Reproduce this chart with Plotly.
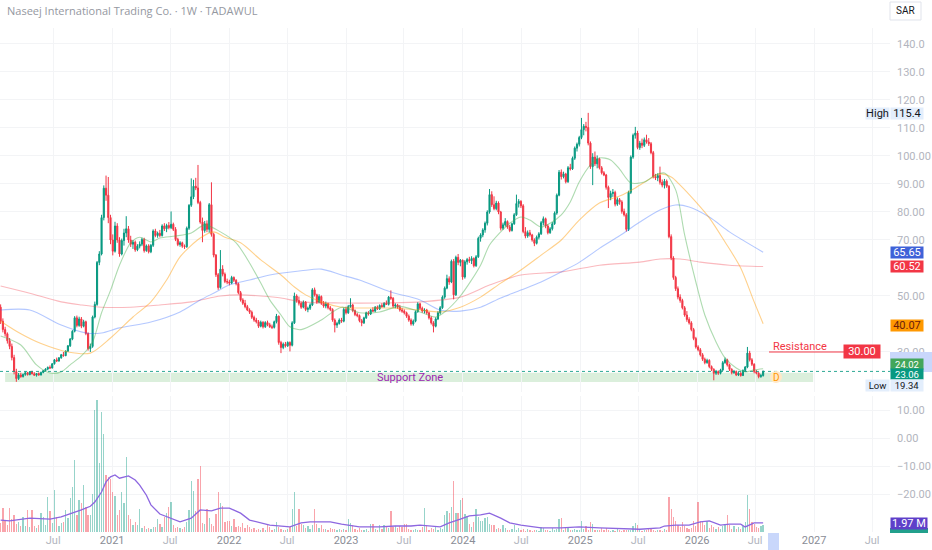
import plotly.graph_objects as go
import pandas as pd

# weekly candles, Naseej International Trading Co. (TADAWUL), values in SAR
first_week = "2020-01-19"

opens = [
    46.0, 41.0, 38.0, 36.5, 34.0, 32.0, 28.0, 23.0, 20.5, 21.8,
    21.2, 22.0, 22.6, 21.9, 22.9, 22.2, 21.7, 22.3, 21.8, 22.7,
    23.3, 23.9, 24.5, 24.3, 25.8, 27.2, 26.8, 27.9, 29.0, 28.7,
    30.3, 32.2, 34.6, 37.4, 42.2, 39.5, 41.8, 39.2, 40.8, 36.6,
    31.2, 32.0, 42.5, 47.0, 62.0, 65.0, 78.0, 88.5, 86.0, 78.0,
    70.0, 66.0, 75.0, 70.0, 65.0, 69.8, 72.5, 74.0, 70.0, 68.5,
    69.2, 66.5, 67.8, 68.5, 70.2, 66.2, 67.9, 65.8, 68.1, 73.2,
    71.6, 72.4, 71.6, 75.0, 74.0, 75.2, 74.4, 75.6, 73.8, 70.2,
    68.4, 69.0, 67.8, 67.6, 74.2, 82.4, 85.4, 89.2, 88.6, 83.4,
    76.4, 73.4, 75.8, 73.8, 82.6, 72.0, 64.6, 57.6, 53.0, 59.6,
    57.8, 55.2, 55.0, 54.6, 56.6, 55.6, 54.4, 51.2, 48.6, 47.4,
    46.2, 45.0, 44.2, 42.4, 41.4, 40.8, 39.2, 40.6, 39.0, 40.5,
    39.7, 39.0, 38.8, 40.8, 42.8, 33.4, 31.6, 32.8, 32.2, 33.4,
    32.4, 40.4, 50.0, 48.4, 47.4, 46.0, 47.8, 45.2, 45.6, 46.8,
    52.2, 50.4, 47.8, 49.8, 47.4, 46.4, 47.2, 45.8, 45.2, 41.4,
    39.6, 40.2, 41.4, 41.0, 45.2, 44.0, 46.2, 46.8, 44.8, 43.4,
    43.0, 41.2, 40.4, 42.2, 44.0, 43.6, 45.0, 44.6, 46.0, 45.4,
    46.6, 46.2, 47.4, 47.0, 49.6, 49.2, 46.4, 46.8, 46.0, 45.0,
    44.6, 44.0, 42.8, 41.4, 40.0, 41.0, 44.4, 47.2, 45.6, 44.6,
    45.0, 44.0, 42.2, 40.4, 39.2, 41.8, 44.0, 45.8, 49.6, 52.8,
    56.2, 55.0, 62.4, 50.4, 63.8, 62.0, 62.8, 56.8, 62.2, 63.0,
    62.6, 63.4, 60.8, 64.0, 70.6, 71.8, 73.6, 76.0, 80.0, 86.2,
    82.6, 81.2, 83.2, 80.0, 74.2, 75.4, 76.6, 74.6, 73.4, 75.8,
    79.0, 83.0, 83.8, 82.2, 73.0, 71.4, 72.6, 71.8, 70.0, 68.8,
    71.0, 72.2, 76.2, 77.6, 75.0, 72.6, 74.0, 75.8, 79.6, 86.0,
    94.2, 92.6, 93.6, 90.8, 95.8, 95.4, 99.2, 102.8, 104.2, 106.6,
    109.4, 110.6, 110.2, 104.6, 96.2, 99.6, 97.2, 99.0, 95.8, 94.0,
    93.2, 88.8, 85.2, 86.6, 87.0, 82.8, 84.4, 83.6, 80.2, 79.0,
    73.8, 87.0, 99.6, 107.4, 108.2, 103.0, 104.6, 103.8, 105.8, 105.0,
    104.4, 101.2, 92.6, 92.2, 93.0, 90.6, 89.6, 91.0, 89.2, 71.2,
    63.6, 56.6, 52.6, 49.6, 48.4, 45.8, 43.2, 41.6, 40.4, 38.0,
    34.8, 31.8, 30.8, 29.0, 27.4, 26.2, 27.0, 24.8, 23.8, 22.4,
    23.0, 22.4, 23.6, 26.2, 27.2, 25.4, 23.8, 22.6, 23.0, 21.8,
    22.4, 21.6, 23.4, 24.6, 29.6, 27.2, 25.6, 23.0, 22.4, 21.2, 21.6,
]
highs = [
    47.0, 42.0, 39.0, 37.0, 35.0, 33.0, 29.0, 24.0, 22.5, 22.6,
    22.3, 23.0, 22.9, 23.2, 23.3, 22.8, 22.5, 22.7, 23.0, 23.6,
    24.2, 24.8, 25.2, 26.0, 27.5, 28.0, 28.2, 29.3, 30.0, 30.6,
    32.5, 35.0, 37.8, 42.8, 43.0, 42.6, 42.5, 41.5, 41.2, 37.0,
    33.0, 43.0, 48.0, 62.5, 66.0, 79.0, 89.5, 93.0, 92.5, 79.0,
    72.0, 76.5, 76.0, 71.0, 70.5, 74.0, 78.5, 75.0, 71.5, 70.0,
    69.8, 68.5, 69.5, 70.8, 70.8, 68.4, 68.5, 68.6, 73.8, 74.0,
    73.0, 73.6, 75.6, 76.0, 75.8, 76.4, 80.2, 76.2, 74.6, 70.8,
    69.6, 69.4, 68.4, 74.8, 82.8, 92.0, 91.5, 92.2, 96.8, 84.0,
    78.0, 76.8, 77.0, 83.2, 90.6, 72.6, 65.0, 58.2, 66.4, 61.0,
    58.4, 56.2, 55.8, 57.2, 57.0, 56.0, 54.8, 51.8, 49.2, 48.6,
    46.8, 45.6, 44.8, 43.0, 42.2, 41.4, 41.2, 41.0, 41.0, 41.2,
    40.4, 39.8, 41.2, 43.6, 43.0, 34.0, 33.4, 33.6, 33.8, 33.8,
    41.0, 51.2, 50.6, 49.8, 48.0, 48.4, 48.2, 46.2, 47.4, 52.8,
    53.0, 50.8, 50.6, 50.2, 48.2, 48.0, 47.6, 46.4, 45.6, 42.0,
    40.8, 42.0, 42.2, 45.8, 46.2, 46.8, 49.2, 47.2, 45.2, 44.0,
    43.4, 41.8, 42.6, 44.4, 44.6, 45.4, 46.0, 46.4, 46.6, 47.0,
    47.4, 47.8, 48.4, 50.0, 52.0, 49.6, 47.4, 47.2, 46.8, 45.8,
    45.2, 44.4, 43.4, 42.0, 41.6, 44.8, 47.8, 47.6, 46.2, 45.6,
    45.4, 44.4, 42.8, 41.0, 42.4, 44.6, 46.4, 50.2, 53.4, 57.6,
    57.0, 63.0, 63.2, 64.4, 65.0, 63.2, 63.0, 62.8, 63.6, 64.0,
    64.2, 63.8, 64.6, 71.2, 72.4, 74.2, 76.6, 80.6, 88.2, 87.4,
    85.6, 84.0, 83.8, 80.4, 76.2, 77.8, 77.0, 75.4, 76.2, 79.6,
    86.2, 84.6, 84.2, 82.8, 74.6, 73.4, 73.6, 72.2, 70.6, 71.6,
    72.8, 76.8, 78.4, 78.0, 75.6, 74.6, 76.4, 80.2, 86.6, 95.0,
    95.2, 94.4, 94.0, 96.4, 97.2, 99.8, 103.4, 104.8, 107.2, 113.6,
    111.4, 112.2, 115.4, 105.2, 101.0, 101.6, 100.2, 99.4, 96.4, 94.6,
    93.6, 89.4, 87.6, 88.2, 87.6, 85.2, 85.0, 84.2, 81.2, 79.6,
    87.6, 100.2, 108.0, 110.4, 109.0, 105.4, 106.2, 106.6, 107.6, 106.4,
    105.0, 101.8, 93.6, 93.8, 96.2, 91.6, 91.8, 91.6, 89.6, 72.0,
    64.2, 57.2, 53.4, 50.6, 49.0, 46.4, 44.6, 42.4, 41.0, 38.6,
    35.4, 32.4, 31.4, 29.6, 28.0, 27.6, 27.4, 25.2, 24.2, 23.6,
    23.4, 24.0, 26.8, 28.0, 27.6, 25.8, 24.2, 23.6, 23.4, 22.8,
    22.8, 23.8, 25.0, 31.8, 30.4, 27.8, 26.0, 23.6, 22.8, 22.2, 23.4,
]
lows = [
    40.0, 37.0, 35.5, 33.0, 31.0, 27.0, 22.0, 19.34, 20.0, 20.8,
    20.9, 21.5, 21.6, 21.7, 22.0, 21.5, 21.2, 21.5, 21.6, 22.4,
    23.0, 23.5, 23.9, 24.1, 25.5, 26.4, 26.5, 27.6, 28.3, 28.5,
    30.0, 31.8, 34.2, 37.0, 38.8, 39.0, 38.5, 38.8, 36.0, 30.5,
    30.0, 31.5, 42.0, 46.5, 61.0, 64.5, 77.0, 84.0, 76.0, 68.5,
    64.5, 65.5, 69.0, 64.0, 64.5, 68.0, 71.0, 69.0, 67.5, 66.8,
    65.8, 66.0, 67.0, 67.8, 65.5, 65.8, 65.2, 65.3, 67.5, 71.0,
    70.8, 71.0, 71.2, 73.2, 72.8, 73.8, 73.9, 73.2, 69.6, 67.8,
    67.6, 67.2, 66.8, 67.2, 73.6, 81.8, 84.6, 87.8, 82.8, 75.8,
    69.2, 72.6, 72.8, 72.6, 71.2, 63.8, 56.8, 52.2, 52.6, 57.0,
    54.6, 54.2, 53.8, 54.2, 55.0, 53.8, 50.6, 48.0, 46.8, 45.6,
    44.6, 43.6, 41.8, 40.8, 40.2, 38.6, 38.8, 38.4, 38.6, 39.2,
    38.6, 38.2, 38.4, 40.2, 32.6, 29.6, 31.0, 31.6, 31.8, 30.2,
    32.0, 40.0, 47.6, 46.6, 45.4, 45.6, 44.6, 44.2, 45.0, 46.4,
    49.8, 47.2, 47.4, 46.8, 45.8, 45.6, 45.2, 44.6, 40.8, 37.0,
    38.6, 39.8, 40.4, 40.6, 43.4, 43.6, 45.8, 44.2, 42.8, 42.4,
    40.6, 39.2, 40.0, 41.8, 43.0, 43.2, 44.2, 44.2, 45.0, 45.0,
    45.8, 45.8, 46.8, 46.6, 48.6, 45.8, 45.6, 45.4, 44.4, 44.0,
    43.4, 42.2, 40.8, 39.4, 39.4, 40.6, 44.0, 45.0, 44.0, 43.8,
    43.4, 41.6, 39.8, 37.0, 38.8, 41.4, 43.4, 45.4, 49.0, 52.4,
    54.0, 54.6, 48.8, 50.0, 61.0, 60.6, 55.8, 56.2, 61.2, 61.8,
    61.4, 60.2, 60.4, 63.6, 69.4, 71.0, 72.6, 75.2, 79.4, 81.8,
    80.6, 80.6, 79.2, 73.4, 73.6, 74.8, 74.0, 72.8, 73.0, 75.4,
    78.6, 81.6, 81.4, 72.4, 70.6, 70.8, 71.2, 69.4, 67.8, 68.4,
    70.2, 71.8, 75.2, 74.2, 72.0, 72.2, 73.4, 75.4, 79.0, 85.6,
    91.6, 92.0, 90.2, 90.4, 94.8, 95.0, 98.6, 101.6, 103.4, 106.0,
    107.4, 108.8, 103.8, 95.4, 89.6, 96.4, 95.6, 95.2, 93.4, 92.8,
    88.0, 81.4, 84.2, 85.4, 82.0, 82.2, 82.6, 79.4, 78.4, 73.0,
    73.2, 86.4, 99.0, 106.2, 102.4, 102.2, 102.8, 103.2, 104.4, 103.6,
    100.6, 92.0, 91.4, 91.0, 89.8, 88.8, 88.4, 88.6, 70.6, 62.8,
    55.8, 51.8, 48.8, 47.6, 45.2, 42.6, 40.8, 39.8, 37.4, 34.2,
    31.2, 30.2, 28.4, 26.8, 25.6, 25.8, 24.2, 23.2, 19.9, 21.8,
    21.8, 22.0, 23.2, 25.8, 24.8, 23.2, 22.0, 22.2, 21.4, 21.4,
    21.2, 21.4, 23.0, 24.2, 26.6, 25.0, 22.4, 22.0, 20.6, 20.8, 21.2,
]
closes = [
    41.0, 38.0, 36.5, 34.0, 32.0, 28.0, 23.0, 20.5, 21.8, 21.2,
    22.0, 22.6, 21.9, 22.9, 22.2, 21.7, 22.3, 21.8, 22.7, 23.3,
    23.9, 24.5, 24.3, 25.8, 27.2, 26.8, 27.9, 29.0, 28.7, 30.3,
    32.2, 34.6, 37.4, 42.2, 39.5, 41.8, 39.2, 40.8, 36.6, 31.2,
    32.0, 42.5, 47.0, 62.0, 65.0, 78.0, 88.5, 86.0, 78.0, 70.0,
    66.0, 75.0, 70.0, 65.0, 69.8, 72.5, 74.0, 70.0, 68.5, 69.2,
    66.5, 67.8, 68.5, 70.2, 66.2, 67.9, 65.8, 68.1, 73.2, 71.6,
    72.4, 71.6, 75.0, 74.0, 75.2, 74.4, 75.6, 73.8, 70.2, 68.4,
    69.0, 67.8, 67.6, 74.2, 82.4, 85.4, 89.2, 88.6, 83.4, 76.4,
    73.4, 75.8, 73.8, 82.6, 72.0, 64.6, 57.6, 53.0, 59.6, 57.8,
    55.2, 55.0, 54.6, 56.6, 55.6, 54.4, 51.2, 48.6, 47.4, 46.2,
    45.0, 44.2, 42.4, 41.4, 40.8, 39.2, 40.6, 39.0, 40.5, 39.7,
    39.0, 38.8, 40.8, 42.8, 33.4, 31.6, 32.8, 32.2, 33.4, 32.4,
    40.4, 50.0, 48.4, 47.4, 46.0, 47.8, 45.2, 45.6, 46.8, 52.2,
    50.4, 47.8, 49.8, 47.4, 46.4, 47.2, 45.8, 45.2, 41.4, 39.6,
    40.2, 41.4, 41.0, 45.2, 44.0, 46.2, 46.8, 44.8, 43.4, 43.0,
    41.2, 40.4, 42.2, 44.0, 43.6, 45.0, 44.6, 46.0, 45.4, 46.6,
    46.2, 47.4, 47.0, 49.6, 49.2, 46.4, 46.8, 46.0, 45.0, 44.6,
    44.0, 42.8, 41.4, 40.0, 41.0, 44.4, 47.2, 45.6, 44.6, 45.0,
    44.0, 42.2, 40.4, 39.2, 41.8, 44.0, 45.8, 49.6, 52.8, 56.2,
    55.0, 62.4, 50.4, 63.8, 62.0, 62.8, 56.8, 62.2, 63.0, 62.6,
    63.4, 60.8, 64.0, 70.6, 71.8, 73.6, 76.0, 80.0, 86.2, 82.6,
    81.2, 83.2, 80.0, 74.2, 75.4, 76.6, 74.6, 73.4, 75.8, 79.0,
    83.0, 83.8, 82.2, 73.0, 71.4, 72.6, 71.8, 70.0, 68.8, 71.0,
    72.2, 76.2, 77.6, 75.0, 72.6, 74.0, 75.8, 79.6, 86.0, 94.2,
    92.6, 93.6, 90.8, 95.8, 95.4, 99.2, 102.8, 104.2, 106.6, 109.4,
    110.6, 110.2, 104.6, 96.2, 99.6, 97.2, 99.0, 95.8, 94.0, 93.2,
    88.8, 85.2, 86.6, 87.0, 82.8, 84.4, 83.6, 80.2, 79.0, 73.8,
    87.0, 99.6, 107.4, 108.2, 103.0, 104.6, 103.8, 105.8, 105.0, 104.4,
    101.2, 92.6, 92.2, 93.0, 90.6, 89.6, 91.0, 89.2, 71.2, 63.6,
    56.6, 52.6, 49.6, 48.4, 45.8, 43.2, 41.6, 40.4, 38.0, 34.8,
    31.8, 30.8, 29.0, 27.4, 26.2, 27.0, 24.8, 23.8, 22.4, 23.0,
    22.4, 23.6, 26.2, 27.2, 25.4, 23.8, 22.6, 23.0, 21.8, 22.4,
    21.6, 23.4, 24.6, 29.6, 27.2, 25.6, 23.0, 22.4, 21.2, 21.6, 23.06,
]
# weekly volume, millions of shares
volumes = [
    2.0, 5.2, 2.4, 1.6, 5.2, 2.8, 3.6, 1.8, 2.2, 1.4,
    3.3, 1.2, 4.8, 1.0, 4.8, 1.3, 0.9, 1.5, 4.1, 3.3,
    1.6, 7.6, 4.5, 2.0, 9.1, 3.3, 1.4, 1.9, 2.2, 4.8,
    3.1, 7.4, 9.8, 15.6, 3.6, 7.0, 6.3, 10.2, 5.4, 3.6,
    3.6, 8.2, 26.5, 28.7, 15.0, 26.0, 21.3, 12.4, 12.0, 11.5,
    8.7, 7.8, 3.6, 4.8, 8.7, 6.3, 16.3, 3.6, 2.8, 1.5,
    2.2, 1.5, 5.0, 0.9, 1.2, 0.7, 0.8, 0.6, 1.0, 1.1,
    2.8, 1.8, 1.0, 3.3, 4.1, 5.4, 6.5, 1.5, 0.9, 1.1,
    0.8, 0.7, 1.0, 2.2, 4.8, 11.0, 8.9, 4.5, 11.5, 14.3,
    2.0, 1.8, 5.0, 3.0, 1.8, 1.2, 3.9, 8.7, 6.3, 5.6,
    2.2, 2.4, 2.4, 1.2, 2.8, 1.1, 1.3, 1.1, 2.0, 0.8,
    1.5, 1.1, 0.6, 0.9, 0.5, 0.6, 0.4, 0.9, 0.5, 1.6,
    1.1, 0.5, 0.7, 2.2, 1.1, 0.6, 0.5, 0.4, 0.6, 1.1,
    5.0, 8.7, 1.4, 5.1, 1.8, 1.5, 0.8, 1.3, 0.7, 1.5,
    4.9, 1.8, 0.9, 1.5, 0.6, 0.7, 0.5, 0.9, 0.6, 0.7,
    0.5, 0.6, 0.4, 0.7, 0.5, 2.8, 2.0, 1.5, 0.6, 0.4,
    0.9, 0.5, 0.4, 0.6, 0.3, 1.8, 1.8, 0.6, 0.5, 1.5,
    0.6, 1.5, 1.1, 0.8, 4.6, 1.1, 1.3, 0.9, 1.2, 1.0,
    1.8, 1.8, 0.6, 0.5, 0.4, 0.6, 0.5, 0.4, 1.1, 5.2,
    1.5, 0.5, 0.9, 0.6, 1.1, 0.5, 0.9, 0.6, 3.7, 4.6,
    4.1, 5.4, 11.0, 4.1, 4.1, 7.0, 7.4, 3.9, 3.5, 1.7,
    1.1, 2.2, 4.9, 3.3, 2.4, 2.4, 3.0, 3.3, 1.8, 1.5,
    1.5, 0.6, 0.9, 0.7, 1.6, 0.9, 0.5, 0.4, 0.6, 1.6,
    0.5, 0.9, 0.4, 0.6, 0.3, 0.7, 0.4, 0.3, 0.5, 0.4,
    0.3, 1.1, 0.9, 0.4, 0.5, 0.3, 0.9, 0.4, 0.6, 2.8,
    3.0, 0.5, 1.1, 0.9, 0.4, 0.5, 0.6, 0.4, 0.5, 2.4,
    0.6, 1.3, 0.5, 2.2, 1.8, 0.5, 0.4, 0.5, 0.9, 0.4,
    0.9, 0.4, 0.3, 0.5, 0.3, 0.7, 0.4, 0.3, 0.4, 0.5,
    0.4, 0.5, 1.3, 2.0, 1.5, 0.4, 0.3, 0.5, 0.4, 0.9,
    0.7, 0.4, 0.3, 0.5, 0.4, 0.3, 0.6, 0.5, 7.6, 5.0,
    3.3, 2.4, 1.5, 1.1, 2.2, 1.3, 0.8, 0.6, 0.9, 2.4,
    1.3, 6.5, 2.4, 2.2, 1.5, 2.4, 0.8, 1.6, 1.1, 0.7,
    1.1, 0.6, 1.3, 1.8, 3.7, 1.5, 0.7, 1.3, 0.6, 1.1,
    0.7, 1.3, 2.2, 8.0, 5.0, 2.2, 1.8, 1.1, 0.9, 1.2, 1.63,
]

# moving averages: week index -> value
ma20_idx = [0, 9, 16, 22, 27, 31, 36, 41, 45, 49, 53, 58, 62, 67, 71, 78, 85, 91, 98, 105,
            111, 116, 120, 125, 129, 134, 143, 152, 160, 169, 178, 187, 194, 198, 205, 214, 218, 223, 227, 232,
            236, 241, 245, 250, 254, 258, 263, 267, 272, 276, 281, 287, 292, 296, 301, 305, 310, 314, 319, 323,
            328, 332, 336, 340]
ma20_val = [35.7, 32.5, 25.4, 22.5, 22.9, 25.4, 28.6, 33.6, 44.0, 52.0, 61.0, 69.0, 71.0, 69.3, 70.7, 71.4, 72.5, 75.4, 72.9, 69.0,
            61.8, 54.6, 48.6, 43.2, 39.0, 38.0, 41.4, 46.0, 44.0, 44.3, 46.3, 44.3, 42.5, 44.3, 50.0, 61.0, 68.2, 72.9, 76.0, 78.2,
            77.1, 74.6, 76.0, 79.0, 83.6, 90.7, 96.8, 99.3, 98.6, 95.3, 90.4, 90.7, 93.2, 93.9, 87.9, 71.8, 55.0, 43.2, 33.6, 27.9,
            24.3, 22.9, 23.6, 24.02]
ma50_idx = [0, 9, 18, 30, 40, 49, 59, 67, 74, 80, 89, 95, 100, 107, 116, 125, 131, 136, 143, 152,
            160, 174, 187, 196, 205, 214, 223, 232, 241, 250, 258, 267, 276, 283, 290, 294, 299, 303, 310, 316,
            323, 330, 336, 340]
ma50_val = [41.0, 36.5, 33.0, 30.0, 29.6, 35.0, 42.5, 47.9, 55.7, 64.0, 70.7, 72.9, 71.0, 69.0, 62.9, 57.5, 53.2, 50.4, 47.9, 46.0,
            45.7, 45.7, 45.0, 44.3, 46.0, 49.6, 54.6, 59.3, 64.6, 70.0, 77.1, 83.2, 85.7, 88.6, 92.1, 93.6, 92.5, 89.6, 83.6, 77.9,
            69.3, 60.0, 47.9, 40.07]
ma100_idx = [0, 13, 27, 38, 45, 53, 67, 80, 89, 96, 102, 111, 120, 134, 143, 152, 160, 174, 187, 196,
             205, 214, 223, 232, 241, 250, 258, 267, 276, 285, 294, 301, 307, 316, 325, 340]
ma100_val = [45.0, 45.0, 39.6, 36.8, 36.8, 38.6, 40.7, 44.3, 48.6, 51.4, 54.0, 55.7, 57.5, 59.0, 59.6, 57.5, 55.7, 51.4, 48.6, 45.0,
             44.6, 46.0, 49.3, 52.1, 55.0, 58.6, 62.0, 67.0, 71.5, 76.4, 80.7, 82.5, 81.8, 78.2, 72.9, 65.65]
ma200_idx = [0, 13, 27, 36, 45, 58, 71, 85, 98, 107, 116, 125, 134, 152, 169, 187, 205, 218, 232, 250,
             267, 285, 294, 303, 312, 325, 340]
ma200_val = [53.6, 51.0, 47.9, 46.8, 46.0, 46.0, 46.8, 47.9, 50.0, 50.4, 50.0, 49.3, 47.9, 47.5, 47.5, 47.9, 49.6, 53.9, 57.5, 58.6,
             61.0, 62.1, 63.2, 63.2, 62.1, 61.0, 60.52]
volma_idx = [0, 4, 13, 22, 27, 31, 36, 40, 42, 45, 47, 49, 51, 53, 57, 60, 62, 65, 67, 71,
             76, 80, 85, 89, 94, 98, 102, 107, 111, 116, 120, 129, 134, 138, 147, 152, 160, 169, 176, 183,
             187, 196, 200, 205, 209, 214, 218, 223, 227, 232, 241, 250, 258, 267, 276, 285, 294, 296, 301, 307,
             312, 316, 321, 325, 330, 332, 336, 340]
volma_val = [2.6, 2.4, 3.0, 2.8, 3.3, 3.9, 4.8, 5.6, 6.5, 8.7, 10.9, 12.0, 12.4, 11.7, 12.2, 11.3, 10.2, 8.0, 5.9, 3.9,
             3.0, 2.2, 3.0, 4.8, 4.6, 5.2, 5.2, 4.1, 2.6, 2.0, 1.5, 1.1, 2.0, 2.2, 2.2, 1.7, 1.1, 1.1, 1.3, 1.3,
             1.5, 1.1, 2.0, 2.8, 3.5, 3.7, 4.1, 3.0, 2.0, 1.5, 0.9, 0.9, 1.1, 0.9, 0.7, 0.6, 0.9, 1.3, 1.5, 1.5,
             2.2, 2.4, 1.5, 1.7, 1.7, 1.1, 2.0, 1.97]

tick_dates = ["2020-07-01", "2021-01-01", "2021-07-01", "2022-01-01", "2022-07-01", "2023-01-01",
              "2023-07-01", "2024-01-01", "2024-07-01", "2025-01-01", "2025-07-01", "2026-01-01",
              "2026-07-01", "2027-01-01", "2027-07-01"]
tick_names = ["Jul", "2021", "Jul", "2022", "Jul", "2023", "Jul", "2024", "Jul", "2025", "Jul", "2026",
              "Jul", "2027", "Jul"]
price_ticks = [140, 130, 120, 110, 100, 90, 80, 70, 50, 30]
price_tick_text = ["140.0", "130.0", "120.0", "110.0", "100.00", "90.00", "80.00", "70.00", "50.00", "30.00"]
# the lower pane carries an unlabelled oscillator scale; its marks sit at these volume heights
osc_tick_text = ["10.00", "0.00", "\u221210.00", "\u221220.00"]
osc_tick_at = [26.52, 20.43, 14.35, 8.26]

support_zone = ["2020-02-02", "2026-12-29", 19.3, 22.6]
resistance_level = 30.0
last_price = 23.06
period_high = 115.4
period_low = 19.34
last_volume = 1.63

W, H = 932, 550
PLOT_W, PLOT_H = 890, 532   # plot area in px (margin r=42, b=18)


def px(p):
    return p / PLOT_W


def py(p):
    return (PLOT_H - p) / PLOT_H


dates = pd.date_range(first_week, periods=len(closes), freq="7D")
up = "#089981"
down = "#f23645"
font = "Roboto, Arial, sans-serif"

fig = go.Figure()

fig.add_trace(go.Candlestick(
    x=dates, open=opens, high=highs, low=lows, close=closes,
    increasing=dict(line=dict(color=up, width=1), fillcolor=up),
    decreasing=dict(line=dict(color=down, width=1), fillcolor=down),
    showlegend=False, xaxis="x", yaxis="y"))

ma_specs = [
    (ma200_idx, ma200_val, "rgba(242,54,69,0.35)"),
    (ma100_idx, ma100_val, "rgba(41,98,255,0.35)"),
    (ma50_idx, ma50_val, "rgba(255,152,0,0.45)"),
    (ma20_idx, ma20_val, "rgba(76,175,80,0.45)"),
]
for idx, val, col in ma_specs:
    fig.add_trace(go.Scatter(
        x=[dates[i] for i in idx], y=val, mode="lines",
        line=dict(color=col, width=1.1, shape="spline", smoothing=0.8),
        showlegend=False, hoverinfo="skip", xaxis="x", yaxis="y"))

vol_colors = ["rgba(8,153,129,0.42)" if c >= o else "rgba(242,54,69,0.45)" for o, c in zip(opens, closes)]
fig.add_trace(go.Bar(
    x=dates, y=volumes, marker=dict(color=vol_colors, line=dict(width=0)),
    width=4.0 * 86400000, showlegend=False, xaxis="x2", yaxis="y2"))
fig.add_trace(go.Scatter(
    x=[dates[i] for i in volma_idx], y=volma_val, mode="lines",
    line=dict(color="#8d67e0", width=1.3), showlegend=False, xaxis="x2", yaxis="y2"))

x_range = ["2020-01-17", "2027-08-26"]
year_col = "#8a8d96"
tick_text = [n if n == "Jul" else "<span style='color:%s'>%s</span>" % (year_col, n) for n in tick_names]

axis_common = dict(showline=False, zeroline=False, gridcolor="#f3f4f6", gridwidth=1, automargin=False,
                   tickfont=dict(family=font, size=11, color="#b2b5be"))

shapes = [
    dict(type="rect", xref="x", yref="y", x0=support_zone[0], x1=support_zone[1],
         y0=support_zone[2], y1=support_zone[3], fillcolor="rgba(76,175,80,0.2)", line=dict(width=0), layer="below"),
    dict(type="line", xref="paper", yref="y", x0=0, x1=1, y0=last_price, y1=last_price,
         line=dict(color="rgba(8,153,129,0.85)", width=1, dash="dot")),
    dict(type="line", xref="paper", yref="y", x0=px(769), x1=px(845), y0=resistance_level, y1=resistance_level,
         line=dict(color=down, width=1)),
    dict(type="circle", xref="paper", yref="paper", x0=px(770), x1=px(782), y0=py(383), y1=py(371),
         fillcolor="#ffe8c7", line=dict(width=0)),
    dict(type="rect", xref="paper", yref="paper", x0=1.0, x1=W / PLOT_W, y0=py(372), y1=py(352),
         fillcolor="#c9d7fb", line=dict(width=0)),
    dict(type="rect", xref="paper", yref="paper", x0=px(768), x1=px(779), y0=py(550), y1=py(533),
         fillcolor="#c9d7fb", line=dict(width=0)),
    dict(type="rect", xref="paper", yref="paper", x0=1.0, x1=px(928), y0=py(533), y1=py(528),
         fillcolor="#22a08c", line=dict(width=0)),
    dict(type="rect", xref="paper", yref="paper", x0=px(890), x1=px(921), y0=py(20), y1=py(2),
         fillcolor="white", line=dict(color="#e0e3eb", width=1)),
]


def scale_label(y, text, bg, fg="white", yshift=0, yref="y", width=32, height=11, size=11):
    return dict(x=1, xref="paper", xanchor="left", y=y, yref=yref, yanchor="middle", yshift=yshift,
                text=text, showarrow=False, bgcolor=bg, width=width, height=height, borderpad=0,
                font=dict(family=font, size=size, color=fg), align="center")


annotations = [
    dict(x=px(5), xref="paper", xanchor="left", y=py(11), yref="paper", yanchor="middle",
         text="Naseej International Trading Co. \u00b7 1W \u00b7 TADAWUL", showarrow=False,
         font=dict(family="Open Sans, sans-serif", size=11, color="#9598a1")),
    dict(x=px(905.5), xref="paper", xanchor="center", y=py(11), yref="paper", yanchor="middle", text="SAR",
         showarrow=False, font=dict(family=font, size=10, color="#131722")),
    dict(x="2023-07-21", xref="x", xanchor="center", y=(support_zone[2] + support_zone[3]) / 2, yref="y",
         text="Support Zone", showarrow=False, font=dict(family=font, size=11, color="#9c27b0")),
    dict(x=px(771), xref="paper", xanchor="left", y=resistance_level, yref="y", yanchor="bottom", yshift=-3,
         text="Resistance", showarrow=False, font=dict(family=font, size=11, color=down)),
    dict(x=px(861.5), xref="paper", xanchor="center", y=resistance_level, yref="y", yanchor="middle",
         text="30.00", showarrow=False, bgcolor=down, width=36, height=13, borderpad=0,
         font=dict(family=font, size=11, color="white")),
    dict(x=px(776), xref="paper", xanchor="center", y=py(377), yref="paper", yanchor="middle", text="D",
         showarrow=False, font=dict(family=font, size=10, color="#ff9800")),
    scale_label(65.65, "65.65", "#3f62d8"),
    scale_label(60.52, "60.52", down),
    scale_label(40.07, "40.07", "#ff9800", fg="#6b1d0c", yshift=-2),
    scale_label(24.02, "24.02", "#43a65a", yshift=5.2, height=10, size=9.5),
    scale_label(last_price, "23.06", up, yshift=-2.8, height=10, size=9.5),
    scale_label(period_high, "115.4", "#e3eefc", fg="#131722", yshift=-1),
    dict(x=1, xref="paper", xanchor="right", y=period_high, yref="y", yanchor="middle", yshift=-1, text="High",
         showarrow=False, bgcolor="#e3eefc", width=23, height=11, borderpad=0,
         font=dict(family=font, size=11, color="#131722")),
    scale_label(period_low, "19.34", "#e3eefc", fg="#131722", yshift=-3.7, size=9.5),
    dict(x=1, xref="paper", xanchor="right", y=period_low, yref="y", yanchor="middle", yshift=-3.7, text="Low",
         showarrow=False, bgcolor="#e3eefc", width=23, height=11, borderpad=0,
         font=dict(family=font, size=9.5, color="#131722")),
    scale_label(1.97, "1.97 M", "#5e3fc9", yref="y2", width=36, yshift=-1),
]

fig.update_layout(
    width=W, height=H, margin=dict(l=0, r=W - PLOT_W, t=0, b=H - PLOT_H, autoexpand=False),
    paper_bgcolor="white", plot_bgcolor="white", showlegend=False, bargap=0,
    font=dict(family=font, size=11, color="#b2b5be"),
    xaxis=dict(domain=[0, 1], anchor="y", range=x_range, rangeslider=dict(visible=False),
               tickvals=tick_dates, ticktext=tick_text, showticklabels=False, ticks="", **axis_common),
    xaxis2=dict(domain=[0, 1], anchor="y2", range=x_range, tickvals=tick_dates, ticktext=tick_text,
                ticks="", **axis_common),
    yaxis=dict(domain=[py(392), py(28)], anchor="x", range=[15.71, 145.71], side="right", tickvals=price_ticks,
               ticktext=price_tick_text, ticks="", ticklabelstandoff=6, **axis_common),
    yaxis2=dict(domain=[0, py(396)], anchor="x2", range=[0, 29.57], side="right", tickvals=osc_tick_at,
                ticktext=osc_tick_text, ticks="", ticklabelstandoff=6, **axis_common),
)
fig.update_layout(shapes=shapes, annotations=annotations)

fig.write_html("out.html", config={"displayModeBar": False},
               post_script="document.body.style.margin='0px';")
